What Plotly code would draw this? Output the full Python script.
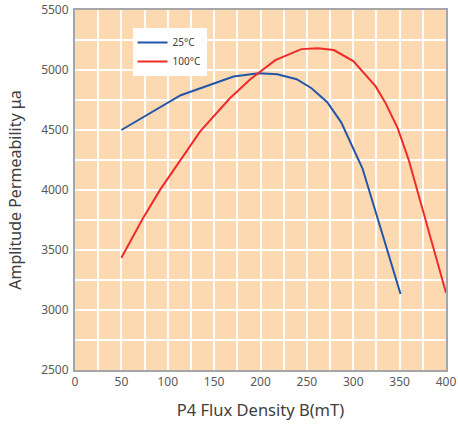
import plotly.graph_objects as go

# 25°C curve
b_25 = [50, 114, 171, 198, 218, 239, 255, 272, 287, 310, 351]
mu_25 = [4500, 4790, 4945, 4973, 4965, 4923, 4848, 4731, 4564, 4179, 3134]

# 100°C curve
b_100 = [50, 73, 92, 135, 167, 189, 216, 244, 262, 279, 300, 324, 335, 348, 360, 400]
mu_100 = [3435, 3760, 4005, 4488, 4764, 4923, 5082, 5174, 5182, 5166, 5074, 4865, 4722, 4513, 4246, 3143]

font = "Noto Sans"

fig = go.Figure()
fig.add_trace(go.Scatter(x=b_25, y=mu_25, name="25°C", mode="lines",
                         line=dict(color="#2356a8", width=2)))
fig.add_trace(go.Scatter(x=b_100, y=mu_100, name="100°C", mode="lines",
                         line=dict(color="#ee2a2a", width=2)))

fig.update_layout(
    width=458, height=424,
    margin=dict(l=75, r=12, t=10, b=54),
    paper_bgcolor="white",
    plot_bgcolor="#fcd9b1",
    font=dict(family=font, color="#595959", size=12),
    legend=dict(x=0.155, y=0.95, xanchor="left", yanchor="top",
                bgcolor="white", font=dict(size=10, color="#404040"),
                itemwidth=30, tracegroupgap=0),
    xaxis=dict(range=[0, 400], dtick=50, tick0=0, automargin=False,
               ticklabeloverflow="allow",
               showgrid=True, gridcolor="white", gridwidth=1.5,
               minor=dict(dtick=25, showgrid=True, gridcolor="white", gridwidth=1.5),
               showline=True, linecolor="#a6a6a6", linewidth=2, mirror=True,
               ticks="", zeroline=False,
               title=dict(text="P4 Flux Density B(mT)", standoff=15,
                          font=dict(size=16.5, color="#404040"))),
    yaxis=dict(range=[2500, 5500], dtick=500, tick0=2500, automargin=False,
               ticklabeloverflow="allow",
               showgrid=True, gridcolor="white", gridwidth=1.5,
               minor=dict(dtick=250, showgrid=True, gridcolor="white", gridwidth=1.5),
               showline=True, linecolor="#a6a6a6", linewidth=2, mirror=True,
               ticks="", zeroline=False, ticklabelstandoff=2,
               title=dict(text="Amplitude Permeability μa", standoff=16,
                          font=dict(size=16, color="#404040"))),
)

# drop the default 8px body margin so the figure fills the window
fig.write_html("out.html", config={"displayModeBar": False},
               post_script="document.body.style.margin='0';")
